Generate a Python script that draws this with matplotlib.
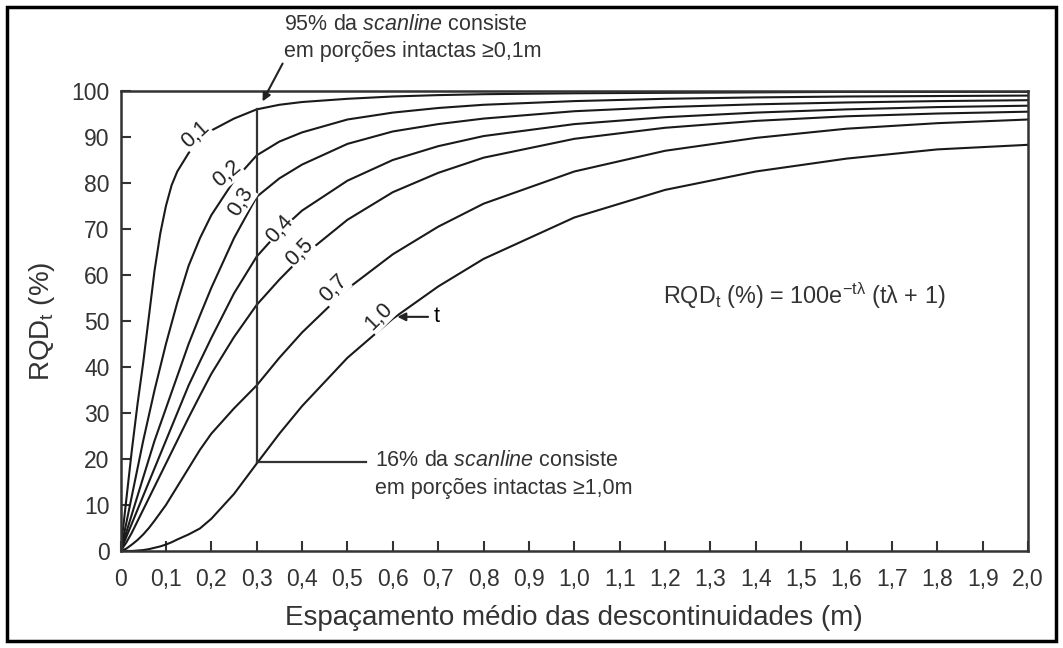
import numpy as np
import matplotlib
matplotlib.use('Agg')
import matplotlib.pyplot as plt
from matplotlib.patches import Rectangle

plt.rcParams['font.family'] = ['Liberation Sans', 'DejaVu Sans']
plt.rcParams['mathtext.fontset'] = 'custom'
plt.rcParams['mathtext.rm'] = 'Liberation Sans'
plt.rcParams['mathtext.it'] = 'Liberation Sans:italic'

# espaçamento médio (m) onde as curvas foram lidas
spacing = [0, 0.0125, 0.025, 0.0375, 0.05, 0.0625, 0.075, 0.0875, 0.1, 0.1125,
           0.125, 0.15, 0.175, 0.2, 0.25, 0.3, 0.35, 0.4, 0.5, 0.6, 0.7, 0.8,
           1.0, 1.2, 1.4, 1.6, 1.8, 2.0]

# RQD_t (%) para cada limiar t
rqd_t01 = [0, 11, 22, 32, 41, 51, 61, 69, 75, 79.5, 82.5, 86.5, 89.3, 91.4,
           94, 96, 97, 97.6, 98.3, 98.8, 99.1, 99.3, 99.5, 99.6, 99.7, 99.8,
           99.8, 99.8]
rqd_t02 = [0, 6, 12, 18, 24, 29.5, 35, 40, 45, 49.5, 54, 62, 68, 73, 80.5, 86,
           89, 91, 93.8, 95.3, 96.3, 97, 97.8, 98.3, 98.6, 98.8, 98.9, 99.0]
rqd_t03 = [0, 4, 8, 12, 16, 20, 24, 27.5, 31, 34.5, 38, 45, 51.2, 57.2, 68,
           77, 81, 84, 88.5, 91.2, 92.8, 94, 95.6, 96.5, 97.1, 97.5, 97.8, 98.0]
rqd_t04 = [0, 3, 6, 9, 12, 15, 18, 21, 24, 27, 30, 36, 41.2, 46.3, 56, 64,
           69.5, 74, 80.5, 85, 88, 90.2, 92.8, 94.3, 95.3, 96.0, 96.5, 96.8]
rqd_t05 = [0, 1.8, 4, 6.5, 9, 11.5, 14, 16.5, 19, 21.5, 24, 29, 33.8, 38.5,
           46.5, 53.5, 59, 64, 72, 78, 82.2, 85.5, 89.6, 92, 93.5, 94.5, 95.1,
           95.5]
rqd_t07 = [0, 0.5, 1.4, 2.4, 3.6, 5, 6.6, 8.3, 10, 12, 14, 18, 22, 25.5, 31,
           36, 42, 47.5, 57, 64.5, 70.5, 75.5, 82.5, 87, 89.8, 91.8, 93.0, 93.8]
rqd_t10 = [0, 0, 0, 0.1, 0.2, 0.4, 0.7, 1.0, 1.4, 1.9, 2.5, 3.6, 4.9, 7.0,
           12.4, 19, 25.5, 31.5, 42, 50.5, 57.5, 63.5, 72.5, 78.5, 82.5, 85.3,
           87.3, 88.3]

curves = [rqd_t01, rqd_t02, rqd_t03, rqd_t04, rqd_t05, rqd_t07, rqd_t10]
t_labels = ['0,1', '0,2', '0,3', '0,4', '0,5', '0,7', '1,0']
# posição (x, y) e inclinação dos rótulos sobre as curvas
label_pos = [(0.165, 90.5, 42), (0.235, 82, 40), (0.265, 76, 58), (0.35, 70, 48),
             (0.395, 65, 45), (0.47, 57, 45), (0.57, 51, 45)]

xticks = [round(0.1 * i, 1) for i in range(21)]
xticklabels = ['0'] + [f'{v:.1f}'.replace('.', ',') for v in xticks[1:]]
yticks = list(range(0, 101, 10))

fig = plt.figure(figsize=(10.63, 6.48), dpi=100)
ax = fig.add_axes([0.1134, 0.1497, 0.8538, 0.7099])

for rqd in curves:
    ax.plot(spacing, rqd, color='#1a1a1a', lw=1.5, solid_joinstyle='round')

for lab, (lx, ly, rot) in zip(t_labels, label_pos):
    ax.text(lx, ly, lab, fontsize=15.5, rotation=rot, ha='center', va='center',
            rotation_mode='anchor', color='#222222',
            bbox=dict(facecolor='white', edgecolor='none', pad=0.5))

# linha vertical em 0,3 m e chamadas
ax.plot([0.3, 0.3], [19.3, 96], color='#333333', lw=1.6)
ax.plot([0.3, 0.54], [19.3, 19.3], color='#333333', lw=1.6, clip_on=False)
ax.annotate('', xy=(0.31, 97.2), xytext=(0.36, 106.5),
            arrowprops=dict(arrowstyle='-|>', color='#222222', lw=1.5,
                            mutation_scale=12), annotation_clip=False)
ax.text(0.36, 111.5, '95% da $\\mathit{scanline}$ consiste\nem porções intactas ≥0,1m',
        fontsize=15.5, ha='left', va='center', color='#333333', linespacing=1.4)
ax.text(0.56, 16.6, '16% da $\\mathit{scanline}$ consiste\nem porções intactas ≥1,0m',
        fontsize=15.5, ha='left', va='center', color='#333333', linespacing=1.4)
ax.annotate('t', xy=(0.61, 50.9), xytext=(0.69, 50.9), fontsize=15.5, va='center',
            arrowprops=dict(arrowstyle='-|>', color='#222222', lw=1.5,
                            mutation_scale=12, shrinkB=0))
ax.text(1.195, 55.5, 'RQD$_\\mathregular{t}$ (%) = 100e$^{\\mathregular{-t\\lambda}}$ (tλ + 1)',
        fontsize=16.8, ha='left', va='center', color='#333333')

ax.set_xlim(0, 2.0)
ax.set_ylim(0, 100)
ax.set_xticks(xticks)
ax.set_xticklabels(xticklabels)
ax.set_yticks(yticks)
ax.tick_params(direction='in', length=7, width=1.5, labelsize=16.5,
               colors='#333333')
ax.tick_params(axis='x', pad=12)
ax.tick_params(axis='y', pad=8)
for s in ax.spines.values():
    s.set_linewidth(1.8)
    s.set_color('#333333')

ax.set_xlabel('Espaçamento médio das descontinuidades (m)', fontsize=20,
              color='#333333', labelpad=10)
ax.set_ylabel('RQD$_\\mathregular{t}$ (%)', fontsize=20, color='#333333', labelpad=10)

fig.patches.append(Rectangle((7 / 1063, 7 / 648), 1049 / 1063, 634 / 648,
                             transform=fig.transFigure, fill=False,
                             edgecolor='black', lw=2.5))

fig.savefig('out.png', dpi=100)
